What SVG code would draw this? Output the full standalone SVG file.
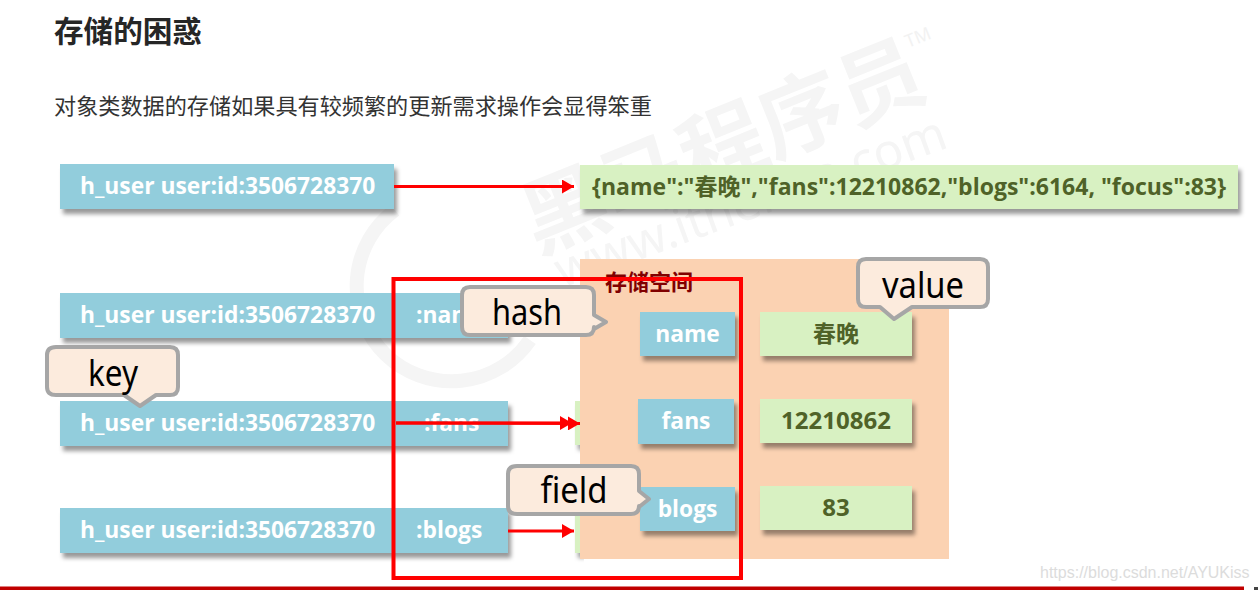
<svg xmlns="http://www.w3.org/2000/svg" width="1258" height="590" viewBox="0 0 1258 590">
<style>
text{font-family:"Noto Sans","Noto Sans CJK SC",sans-serif}
.blue{fill:#92cddc;filter:url(#sh)}
.green{fill:#d8f1c2;filter:url(#sh)}
.bt{fill:#fff;font-family:"Open Sans","Noto Sans CJK SC",sans-serif;font-weight:700;font-size:22.800px}
.gt{fill:#4f6228;font-family:"Open Sans","Noto Sans CJK SC",sans-serif;font-weight:700;font-size:23px;text-anchor:middle}
.gl{font-size:24px}
.call{fill:#fcebdd;stroke:#a6a6a6;stroke-width:4;stroke-linejoin:round}
.ct{fill:#000;font-size:36px;text-anchor:middle}
.arrow{stroke:#f00;stroke-width:3;fill:none;marker-end:url(#ah)}
.wm{fill:#f5f5f5;font-family:"Noto Sans CJK SC",sans-serif;font-weight:700}
</style>
<defs>
<filter id="sh" x="-10%" y="-20%" width="120%" height="150%"><feDropShadow dx="3" dy="5" stdDeviation="2" flood-color="#000" flood-opacity=".4"/></filter>
<marker id="ah" markerUnits="userSpaceOnUse" markerWidth="14" markerHeight="14" refX="13" refY="7" orient="auto"><path d="M1 0L13 7L1 14Z" fill="#f00"/></marker>
</defs>
<rect width="1258" height="590" fill="#fff"/>
<g id="watermark">
<text class="wm" transform="translate(537 254) rotate(-22)" font-size="85">黑马程序员</text>
<text transform="translate(908 48) rotate(-22)" font-size="18" fill="#f2f2f2">TM</text>
<text transform="translate(562 288) rotate(-20)" font-size="49" fill="#f5f5f5">www.itheima.com</text>
<path d="M395 210A95 95 0 1 0 530 340" fill="none" stroke="#f5f5f5" stroke-width="14"/>
</g>
<g id="title"><text x="54" y="42" font-size="29.6" font-weight="700" fill="#262626" style="font-family:'Noto Sans CJK SC',sans-serif">存储的困惑</text></g>
<g id="subtitle"><text x="54" y="114" font-size="22.15" fill="#333" style="font-family:'Noto Sans CJK SC',sans-serif">对象类数据的存储如果具有较频繁的更新需求操作会显得笨重</text></g>

<g id="key-json"><rect class="blue" x="60" y="164" width="334" height="45"/><text class="bt" x="80" y="194">h_user user:id:3506728370</text></g>
<g id="value-json"><rect class="green" x="580" y="165" width="658" height="44"/><text class="gt" x="909" y="195">{name":"春晚","fans":12210862,"blogs":6164, "focus":83}</text></g>

<g id="key-name"><rect class="blue" x="60" y="293" width="448" height="45"/><text class="bt" x="80" y="323">h_user user:id:3506728370</text><text class="bt" x="416" y="323">:name</text></g>
<g id="key-fans"><rect class="blue" x="60" y="401" width="448" height="45"/><text class="bt" x="80" y="431">h_user user:id:3506728370</text><text class="bt" x="424" y="431">:fans</text></g>
<g id="key-blogs"><rect class="blue" x="60" y="508" width="448" height="45"/><text class="bt" x="80" y="538">h_user user:id:3506728370</text><text class="bt" x="416" y="538">:blogs</text></g>

<g id="strips"><rect class="green" x="575" y="401" width="8" height="44"/><rect class="green" x="575" y="508" width="8" height="45"/></g>

<g id="connectors">
<path class="arrow" d="M394 186.500L574 186.500"/>
<path class="arrow" d="M396 423L572 423"/>
<path class="arrow" d="M396 423L580 423.500"/>
<path class="arrow" d="M508 531L574 531"/>
</g>

<g id="storage"><rect x="580" y="259" width="369" height="300" fill="#fbd2b2"/><text x="605" y="290" font-size="22" font-weight="700" fill="#800000" style="font-family:'Noto Sans CJK SC',sans-serif">存储空间</text></g>
<g id="field-name"><rect class="blue" x="640" y="312" width="95" height="44"/><text class="bt" x="687.500" y="342" text-anchor="middle">name</text></g>
<g id="field-fans"><rect class="blue" x="638" y="399" width="96" height="45"/><text class="bt" x="686" y="429" text-anchor="middle">fans</text></g>
<g id="field-blogs"><rect class="blue" x="640" y="487" width="95" height="44"/><text class="bt" x="687.500" y="517" text-anchor="middle">blogs</text></g>
<g id="value-name"><rect class="green" x="760" y="312" width="152" height="44"/><text class="gt" x="836" y="342">春晚</text></g>
<g id="value-fans"><rect class="green" x="760" y="399" width="152" height="44"/><text class="gt gl" x="836" y="429">12210862</text></g>
<g id="value-blogs"><rect class="green" x="760" y="486" width="152" height="44"/><text class="gt gl" x="836" y="516">83</text></g>

<g id="selection"><rect x="393.500" y="279" width="347.500" height="299" fill="none" stroke="#f00" stroke-width="4"/></g>

<g id="callout-key"><path class="call" d="M56 347H170Q178 347 178 355V387Q178 395 170 395H156L140 406L124 395H56Q47 395 47 387V355Q47 347 56 347Z"/><text class="ct" x="113" y="386" textLength="50" lengthAdjust="spacingAndGlyphs">key</text></g>
<g id="callout-hash"><path class="call" d="M470 287H586Q594 287 594 295V315L606 322L594 329V327Q594 335 586 335H470Q462 335 462 327V295Q462 287 470 287Z"/><text class="ct" x="527" y="325" textLength="70" lengthAdjust="spacingAndGlyphs">hash</text></g>
<g id="callout-field"><path class="call" d="M517 466H631Q639 466 639 474V491L649 499L639 507V506Q639 514 631 514H517Q508 514 508 506V474Q508 466 517 466Z"/><text class="ct" x="574" y="503" textLength="67" lengthAdjust="spacingAndGlyphs">field</text></g>
<g id="callout-value"><path class="call" d="M866 259H980Q988 259 988 267V299Q988 307 980 307H912L894 319L880 307H866Q858 307 858 299V267Q858 259 866 259Z"/><text class="ct" x="923" y="298" textLength="82" lengthAdjust="spacingAndGlyphs">value</text></g>

<g id="footer">
<rect x="0" y="586.500" width="1244" height="3.500" fill="#c00000"/>
<rect x="1254" y="587" width="4" height="3" fill="#444"/>
<text x="1040" y="578" font-size="16" fill="#dcdcdc" style="font-family:'Liberation Sans',sans-serif">https://blog.csdn.net/AYUKiss</text>
</g>
</svg>
